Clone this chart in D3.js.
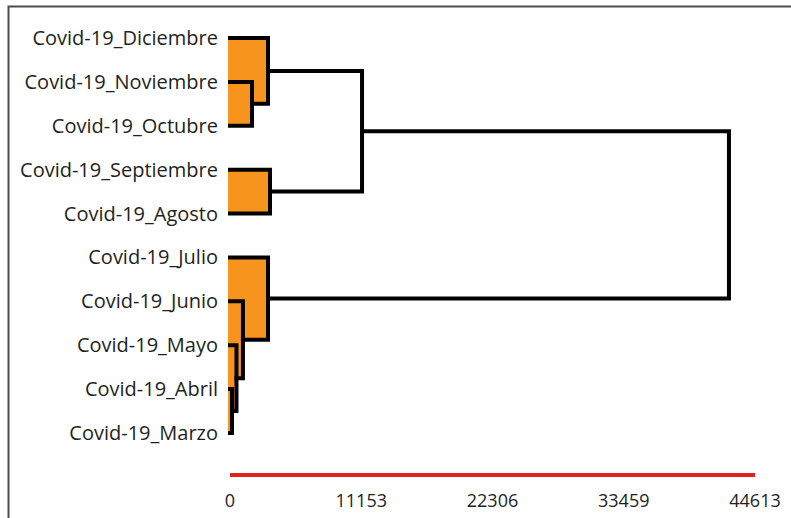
<!DOCTYPE html>
<html>
<head>
<meta charset="utf-8">
<script src="https://cdn.jsdelivr.net/npm/d3@7"></script>
<style>
  body { margin: 0; background: #fff; }
  text { font-family: "Open Sans", sans-serif; fill: #231f20; }
</style>
</head>
<body>
<div id="container"></div>
<script>
// dendrogram of covid-19 months (hierarchical clustering)

// leaves, top to bottom
var leaves = ["Covid-19_Diciembre", "Covid-19_Noviembre", "Covid-19_Octubre",
              "Covid-19_Septiembre", "Covid-19_Agosto", "Covid-19_Julio",
              "Covid-19_Junio", "Covid-19_Mayo", "Covid-19_Abril", "Covid-19_Marzo"];

// merges: node 10 + i joins mergeA[i] and mergeB[i] at mergeHeight[i]
var mergeA      = [8,   7,   6,    5,    1,    0,    3,    15,    17];
var mergeB      = [9,   10,  11,   12,   2,    14,   4,    16,    13];
var mergeHeight = [170, 550, 1100, 3230, 1870, 3230, 3400, 11220, 42400];

// clusters under this height are highlighted
var clusterCut = 5000;

var axisMax = 44613;
var tickLabels = ["0", "11153", "22306", "33459", "44613"];

var width = 791, height = 518;
var margin = {top: 38, left: 230, right: 36, bottom: 85};

var svg = d3.select("#container").append("svg")
    .attr("width", width)
    .attr("height", height);

// frame (left + top only)
svg.append("path")
    .attr("d", "M8.5,518 V6.5 H791")
    .attr("fill", "none")
    .attr("stroke", "#4d4d4d")
    .attr("stroke-width", 2);

var x = d3.scaleLinear().domain([0, axisMax]).range([margin.left, width - margin.right]);
var y = d3.scalePoint().domain(d3.range(leaves.length)).range([margin.top, height - margin.bottom]);

// node positions
var nodes = leaves.map(function(d, i) { return {h: 0, y: y(i)}; });
mergeA.forEach(function(a, i) {
  var b = mergeB[i];
  nodes.push({a: a, b: b, h: mergeHeight[i], y: (nodes[a].y + nodes[b].y) / 2});
});

var internal = nodes.slice(leaves.length);

// highlighted cluster areas
svg.append("g").selectAll("rect")
    .data(internal.filter(function(d) { return d.h < clusterCut; }))
  .enter().append("rect")
    .attr("x", x(0) - 2)
    .attr("y", function(d) { return nodes[d.a].y; })
    .attr("width", function(d) { return x(d.h) - x(0) + 2; })
    .attr("height", function(d) { return nodes[d.b].y - nodes[d.a].y; })
    .attr("fill", "#f7941e");

// links
svg.append("g").selectAll("path")
    .data(internal)
  .enter().append("path")
    .attr("d", function(d) {
      var A = nodes[d.a], B = nodes[d.b];
      return "M" + x(A.h) + "," + A.y + " H" + x(d.h) + " V" + B.y + " H" + x(B.h);
    })
    .attr("fill", "none")
    .attr("stroke", "#000")
    .attr("stroke-width", 4)
    .attr("stroke-linecap", "square");

// leaf labels
svg.append("g").selectAll("text")
    .data(leaves)
  .enter().append("text")
    .attr("x", margin.left - 12)
    .attr("y", function(d, i) { return y(i); })
    .attr("dy", "0.35em")
    .attr("text-anchor", "end")
    .style("font-size", "20px")
    .text(function(d) { return d; });

// bottom axis
var axisY = 475;
svg.append("line")
    .attr("x1", x(0)).attr("x2", x(axisMax))
    .attr("y1", axisY).attr("y2", axisY)
    .attr("stroke", "#e2231a")
    .attr("stroke-width", 4);

svg.append("g").selectAll("text")
    .data(tickLabels)
  .enter().append("text")
    .attr("x", function(d, i) { return x(axisMax * i / (tickLabels.length - 1)); })
    .attr("y", 507)
    .attr("text-anchor", "middle")
    .style("font-size", "18px")
    .text(function(d) { return d; });
</script>
</body>
</html>
